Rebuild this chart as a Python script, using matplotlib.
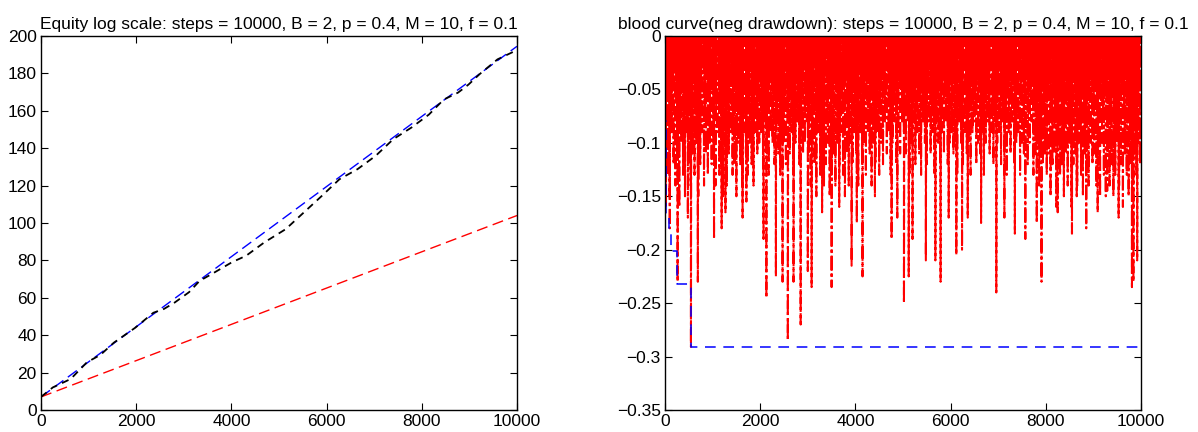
import numpy as np
import matplotlib
matplotlib.use("Agg")
import matplotlib.pyplot as plt

plt.rcParams["font.family"] = ["Liberation Sans", "DejaVu Sans"]
plt.rcParams["font.size"] = 12.5

# ---- left panel: equity curves ----
steps = 10000
eq_x = [0, 10000]
eq_opt = [7.0, 194.5]      # blue, expected optimal
eq_f = [7.0, 104.0]        # red, fixed fraction

eq_real_x = [0, 250, 625, 964, 1250, 1530, 1980, 2360, 2580, 2810, 3110, 3330, 3640,
             4010, 4310, 4690, 5140, 5520, 5900, 6270, 6650, 7030, 7400, 7780, 8150,
             8460, 8760, 8980, 9210, 9590, 9960, 10000]
eq_real = [7.0, 12.1, 16.6, 25.5, 29.5, 36.0, 44.0, 52.0, 54.0, 57.5, 63.0, 69.0, 73.5,
           79.0, 82.5, 89.6, 96.7, 105.6, 114.5, 123.4, 128.8, 135.9, 144.8, 151.0, 158.0,
           166.0, 169.7, 174.0, 179.5, 187.5, 192.0, 192.3]

# ---- right panel: drawdown ----
# max drawdown so far (blue step line)
mdd_x = [0, 5, 15, 27, 84, 133, 260, 542, 10000]
mdd_y = [-0.02, -0.08, -0.13, -0.167, -0.184, -0.201, -0.232, -0.291, -0.291]

# deeper troughs every 40 steps
band_depth = [
    -0.10, -0.13, -0.15, -0.09, -0.12, -0.14, -0.11, -0.16, -0.10, -0.13, -0.15, -0.09, -0.12,
    -0.14, -0.11, -0.13, -0.10, -0.15, -0.12, -0.09, -0.14, -0.11, -0.13, -0.10, -0.12,
    -0.11, -0.14, -0.09, -0.13, -0.12, -0.15, -0.10, -0.14, -0.11, -0.09, -0.13, -0.12, -0.15,
    -0.10, -0.12, -0.14, -0.09, -0.11, -0.13, -0.10, -0.12, -0.14, -0.09, -0.11, -0.10,
    -0.09, -0.12, -0.08, -0.11, -0.13, -0.09, -0.10, -0.12, -0.08, -0.11, -0.13, -0.09, -0.10,
    -0.12, -0.08, -0.11, -0.09, -0.13, -0.10, -0.08, -0.12, -0.09, -0.11, -0.10, -0.08,
    -0.11, -0.14, -0.10, -0.12, -0.15, -0.09, -0.13, -0.11, -0.14, -0.12, -0.10, -0.15, -0.13,
    -0.11, -0.14, -0.10, -0.12, -0.09, -0.13, -0.15, -0.11, -0.14, -0.10, -0.12, -0.09,
    -0.11, -0.14, -0.09, -0.12, -0.10, -0.13, -0.09, -0.11, -0.14, -0.10, -0.12, -0.09, -0.13,
    -0.10, -0.12, -0.08, -0.11, -0.09, -0.13, -0.10, -0.08, -0.12, -0.09, -0.11, -0.08,
    -0.09, -0.11, -0.08, -0.13, -0.10, -0.08, -0.12, -0.09, -0.11, -0.13, -0.08, -0.10, -0.12,
    -0.08, -0.11, -0.09, -0.13, -0.08, -0.10, -0.12, -0.09, -0.11, -0.08, -0.12, -0.10,
    -0.09, -0.11, -0.10, -0.13, -0.08, -0.10, -0.12, -0.09, -0.11, -0.10, -0.13, -0.09, -0.08,
    -0.12, -0.10, -0.11, -0.09, -0.13, -0.10, -0.08, -0.11, -0.09, -0.12, -0.08, -0.10,
    -0.09, -0.12, -0.08, -0.10, -0.13, -0.09, -0.11, -0.08, -0.12, -0.10, -0.09, -0.13, -0.10,
    -0.11, -0.09, -0.12, -0.10, -0.08, -0.13, -0.11, -0.10, -0.14, -0.10, -0.12, -0.11,
    -0.13, -0.11, -0.15, -0.12, -0.11, -0.16, -0.10, -0.13, -0.12, -0.15, -0.11, -0.14, -0.10,
    -0.16, -0.12, -0.11, -0.14, -0.10, -0.13, -0.15, -0.11, -0.12, -0.14, -0.10, -0.12,
    -0.11, -0.14, -0.12, -0.15, -0.10, -0.13, -0.15, -0.11, -0.14, -0.12, -0.15, -0.13, -0.10,
    -0.14, -0.12, -0.16, -0.11, -0.13, -0.15, -0.12, -0.14, -0.11, -0.13, -0.10, -0.12,
]
band_x = np.arange(20, steps, 40)

# shallow troughs every 40 steps, in between the deeper ones
shallow_depth = [
    -0.04, -0.06, -0.03, -0.07, -0.05, -0.02, -0.06, -0.04, -0.08, -0.05, -0.03, -0.06, -0.04,
    -0.07, -0.05, -0.03, -0.06, -0.04, -0.08, -0.05, -0.03, -0.07, -0.04, -0.06, -0.05,
    -0.05, -0.03, -0.07, -0.04, -0.06, -0.02, -0.05, -0.07, -0.04, -0.06, -0.03, -0.08, -0.05,
    -0.04, -0.06, -0.03, -0.05, -0.07, -0.04, -0.06, -0.03, -0.05, -0.04, -0.07, -0.05,
    -0.03, -0.06, -0.04, -0.05, -0.07, -0.03, -0.05, -0.04, -0.06, -0.02, -0.05, -0.07, -0.04,
    -0.06, -0.03, -0.05, -0.04, -0.07, -0.05, -0.03, -0.06, -0.04, -0.05, -0.03, -0.06,
    -0.05, -0.07, -0.04, -0.06, -0.03, -0.08, -0.05, -0.04, -0.06, -0.03, -0.07, -0.05, -0.04,
    -0.06, -0.03, -0.05, -0.07, -0.04, -0.06, -0.05, -0.03, -0.07, -0.04, -0.06, -0.05,
    -0.04, -0.06, -0.03, -0.05, -0.07, -0.04, -0.06, -0.03, -0.05, -0.04, -0.07, -0.05, -0.03,
    -0.06, -0.04, -0.05, -0.07, -0.03, -0.06, -0.04, -0.05, -0.03, -0.06, -0.04, -0.05,
    -0.03, -0.05, -0.07, -0.04, -0.06, -0.03, -0.05, -0.04, -0.06, -0.02, -0.05, -0.07, -0.04,
    -0.05, -0.03, -0.06, -0.04, -0.07, -0.05, -0.03, -0.06, -0.04, -0.05, -0.03, -0.06,
    -0.04, -0.06, -0.03, -0.05, -0.07, -0.04, -0.06, -0.03, -0.05, -0.04, -0.06, -0.03, -0.05,
    -0.07, -0.04, -0.05, -0.03, -0.06, -0.04, -0.05, -0.07, -0.03, -0.06, -0.04, -0.05,
    -0.05, -0.03, -0.06, -0.04, -0.07, -0.05, -0.03, -0.06, -0.04, -0.05, -0.07, -0.04, -0.06,
    -0.03, -0.05, -0.04, -0.07, -0.05, -0.03, -0.06, -0.04, -0.05, -0.07, -0.04, -0.06, -0.05,
    -0.06, -0.04, -0.07, -0.05, -0.08, -0.04, -0.06, -0.05, -0.07, -0.04, -0.06, -0.08, -0.05,
    -0.07, -0.04, -0.06, -0.05, -0.08, -0.04, -0.06, -0.07, -0.05, -0.06, -0.04, -0.07,
    -0.05, -0.07, -0.04, -0.06, -0.08, -0.05, -0.06, -0.04, -0.07, -0.05, -0.06, -0.08, -0.04,
    -0.06, -0.05, -0.07, -0.04, -0.06, -0.08, -0.05, -0.07, -0.04, -0.06, -0.05,
]
shallow_x = np.arange(0, steps, 40)

# deep drawdown spikes
spike_x = [20, 100, 265, 480, 545, 690, 1030, 1190, 1270, 1630, 1710, 2070, 2130, 2330,
           2470, 2580, 2700, 2850, 3000, 3080, 3300, 3500, 3660, 3920, 4030, 4150, 4410,
           4760, 4880, 5020, 5120, 5200, 5480, 5680, 5790, 5960, 6120, 6240, 6360, 6640,
           6960, 7130, 7350, 7570, 7810, 7910, 8250, 8550, 8650, 8850, 9090, 9290, 9530,
           9810, 9840, 9920]
spike_depth = [-0.16, -0.18, -0.23, -0.17, -0.291, -0.23, -0.19, -0.18, -0.165, -0.17,
               -0.155, -0.19, -0.245, -0.225, -0.23, -0.285, -0.23, -0.27, -0.22, -0.235,
               -0.165, -0.235, -0.16, -0.215, -0.175, -0.225, -0.15, -0.19, -0.17, -0.25,
               -0.225, -0.19, -0.21, -0.21, -0.23, -0.17, -0.205, -0.20, -0.17, -0.175,
               -0.24, -0.17, -0.185, -0.19, -0.175, -0.23, -0.165, -0.185, -0.15, -0.18,
               -0.165, -0.145, -0.17, -0.235, -0.23, -0.21]

# merge troughs and put a new high (0) between neighbours
tx = np.concatenate([shallow_x, band_x, spike_x]).astype(float)
td = np.concatenate([shallow_depth, band_depth, spike_depth])
order = np.argsort(tx, kind="stable")
tx, td = tx[order], td[order]
dd_x = [0.0]
dd_y = [0.0]
for i in range(len(tx)):
    dd_x.append(tx[i])
    dd_y.append(td[i])
    nxt = tx[i + 1] if i + 1 < len(tx) else steps
    dd_x.append((tx[i] + nxt) / 2)
    dd_y.append(0.0)

fig = plt.figure(figsize=(11.98, 4.32), dpi=100)
ax1 = fig.add_axes([41 / 1198, 1 - 410 / 432, 476 / 1198, 374 / 432])
ax2 = fig.add_axes([665 / 1198, 1 - 410 / 432, 476 / 1198, 374 / 432])

ax1.plot(eq_x, eq_opt, color="blue", lw=1.0, dashes=(8, 4))
ax1.plot(eq_x, eq_f, color="red", lw=1.0, dashes=(8, 4))
ax1.plot(eq_real_x, eq_real, color="black", lw=1.3, dashes=(4, 3))
ax1.set_xlim(0, 10000)
ax1.set_ylim(0, 200)
ax1.set_xticks(range(0, 10001, 2000))
ax1.set_yticks(range(0, 201, 20))
ax1.set_title("Equity log scale: steps = 10000, B = 2, p = 0.4, M = 10, f = 0.1",
              fontsize=12.5, pad=5)

ax2.plot(dd_x, dd_y, color="red", lw=1.5, dashes=(7, 1.5, 1.5, 1.5))
ax2.plot(mdd_x, mdd_y, color="blue", lw=1.1, drawstyle="steps-post", dashes=(7, 5))
ax2.set_xlim(0, 10000)
ax2.set_ylim(-0.35, 0)
ax2.set_xticks(range(0, 10001, 2000))
yt = [0, -0.05, -0.1, -0.15, -0.2, -0.25, -0.3, -0.35]
ax2.set_yticks(yt)
ax2.set_yticklabels(["0", "\u22120.05", "\u22120.1", "\u22120.15", "\u22120.2",
                     "\u22120.25", "\u22120.3", "\u22120.35"])
ax2.set_title("blood curve(neg drawdown): steps = 10000, B = 2, p = 0.4, M = 10, f = 0.1",
              fontsize=12.5, pad=5)

for ax in (ax1, ax2):
    ax.tick_params(direction="in", length=5, width=0.8, top=True, right=True,
                   labelsize=12.5, pad=3)
    for s in ax.spines.values():
        s.set_linewidth(1.0)

fig.savefig("out.png", dpi=100)
